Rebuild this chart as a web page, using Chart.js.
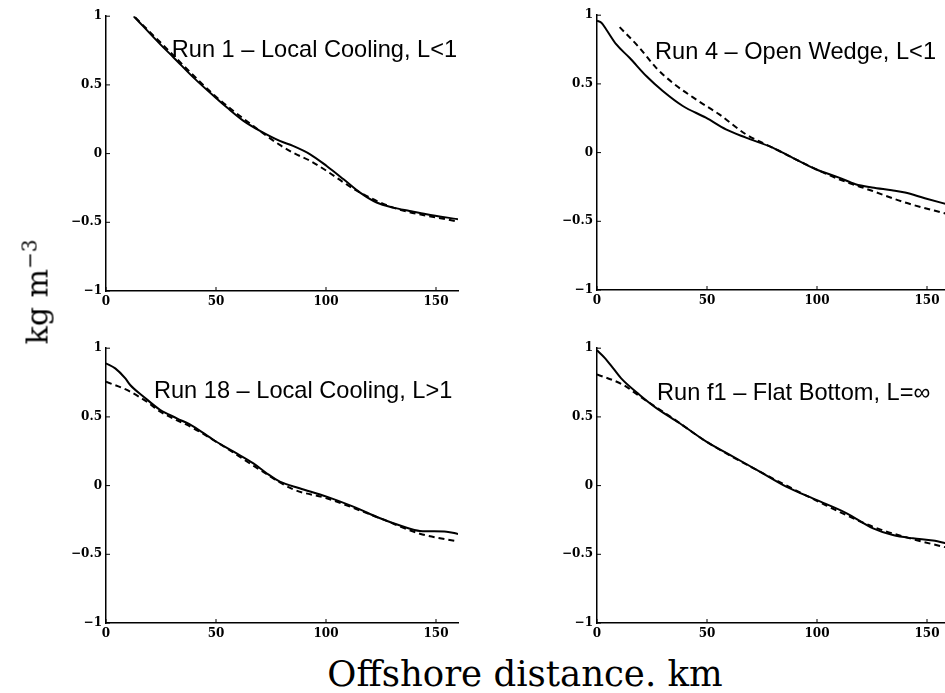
<!DOCTYPE html>
<html>
<head>
<meta charset="utf-8">
<script src="https://cdn.jsdelivr.net/npm/chart.js@4"></script>
<style>
  html, body { margin: 0; padding: 0; background: #fff; overflow: hidden; width: 945px; height: 693px; }
  canvas { position: absolute; }
  #xlabel { position: absolute; left: 0; width: 1050px; top: 653px; text-align: center;
            font: 35.5px "DejaVu Serif", serif; color: #000; white-space: nowrap; }
  #ylabel { position: absolute; left: 36px; top: 292px; transform: translate(-50%, -50%) rotate(-90deg);
            font: 30px "DejaVu Serif", serif; color: #000; white-space: nowrap; }
  #ylabel sup { font-size: 20px; }
</style>
</head>
<body>
<canvas id="p1" width="420" height="310" style="left:50px;top:5px"></canvas>
<canvas id="p2" width="420" height="310" style="left:541px;top:4px"></canvas>
<canvas id="p3" width="420" height="310" style="left:50px;top:337px"></canvas>
<canvas id="p4" width="420" height="310" style="left:541px;top:337px"></canvas>
<div id="ylabel">kg m<sup>&minus;3</sup></div>
<div id="xlabel">Offshore distance. km</div>
<script>
// axis ticks
const xTicks = [0, 50, 100, 150];
const yTicks = [-1, -0.5, 0, 0.5, 1];

// Run 1 - Local Cooling, L<1
const run1Km = [12.6, 24.7, 30.7, 39.8, 49.6, 55, 62.5, 70, 79, 85, 92.8, 100.3, 108, 115.5, 123, 130.6, 138, 145.7, 160];
const run1Obs = [1.0, 0.795, 0.70, 0.553, 0.41, 0.335, 0.238, 0.165, 0.092, 0.056, -0.005, -0.09, -0.187, -0.284, -0.356, -0.393, -0.417, -0.441, -0.478];
const run1ModKm = [13.3, 24.7, 49.6, 67, 79, 85, 92.8, 100.3, 108, 115.5, 130.6, 160];
const run1Mod = [0.99, 0.81, 0.42, 0.20, 0.063, 0.007, -0.053, -0.126, -0.21, -0.284, -0.393, -0.495];

// Run 4 - Open Wedge, L<1
const run4Km = [0, 2, 4.2, 8.8, 14.8, 22.4, 29.9, 39, 49.5, 58.6, 67.7, 79.8, 88.8, 99.4, 110, 117.5, 125, 134, 140, 149, 160];
const run4Obs = [0.96, 0.945, 0.896, 0.787, 0.69, 0.557, 0.448, 0.339, 0.254, 0.169, 0.109, 0.036, -0.036, -0.121, -0.182, -0.23, -0.254, -0.274, -0.29, -0.332, -0.38];
const run4ModKm = [10.3, 19.3, 26.9, 34.4, 45, 55.6, 67.7, 79.8, 94.9, 110, 125, 140, 160];
const run4Mod = [0.913, 0.763, 0.617, 0.508, 0.387, 0.278, 0.133, 0.036, -0.085, -0.194, -0.278, -0.363, -0.45];

// Run 18 - Local Cooling, L>1
const run18Km = [0, 4.2, 8.8, 11, 17.1, 24.7, 32.2, 39.8, 48.9, 58, 67, 73, 79, 88, 100.3, 112.4, 124.6, 135, 142.7, 154.8, 160];
const run18Obs = [0.89, 0.853, 0.78, 0.732, 0.647, 0.55, 0.49, 0.43, 0.332, 0.247, 0.162, 0.09, 0.029, -0.019, -0.08, -0.153, -0.238, -0.298, -0.33, -0.335, -0.352];
const run18ModKm = [0, 9.5, 18.6, 24.7, 39.8, 55, 70, 85, 100.3, 124.6, 142.7, 160];
const run18Mod = [0.756, 0.696, 0.61, 0.538, 0.417, 0.27, 0.114, -0.027, -0.092, -0.238, -0.35, -0.407];

// Run f1 - Flat Bottom, L=inf
const runF1Km = [0, 3.5, 7.3, 11, 19.4, 27, 37.6, 49.7, 61.8, 74, 86, 99.7, 113.3, 125.5, 134.5, 143.6, 152.7, 160];
const runF1Obs = [0.985, 0.93, 0.855, 0.78, 0.66, 0.564, 0.454, 0.32, 0.211, 0.102, -0.007, -0.104, -0.2, -0.311, -0.36, -0.384, -0.4, -0.425];
const runF1ModKm = [0, 11.8, 19.4, 34.5, 49.7, 74, 99.7, 125.5, 143.6, 160];
const runF1Mod = [0.81, 0.734, 0.65, 0.49, 0.32, 0.102, -0.109, -0.3, -0.39, -0.455];

const panels = [
  { id: 'p1', title: 'Run 1 \u2013 Local Cooling, L<1', at: [29.9, 0.70], km: run1Km, obs: run1Obs, modKm: run1ModKm, mod: run1Mod },
  { id: 'p2', title: 'Run 4 \u2013 Open Wedge, L<1', at: [26.4, 0.68], km: run4Km, obs: run4Obs, modKm: run4ModKm, mod: run4Mod },
  { id: 'p3', title: 'Run 18 \u2013 Local Cooling, L>1', at: [21.8, 0.64], km: run18Km, obs: run18Obs, modKm: run18ModKm, mod: run18Mod },
  { id: 'p4', title: 'Run f1 \u2013 Flat Bottom, L=\u221e', at: [27.3, 0.62], km: runF1Km, obs: runF1Obs, modKm: runF1ModKm, mod: runF1Mod }
];

const zip = (xs, ys) => xs.map((x, i) => ({ x, y: ys[i] }));
const fmt = v => (v < 0 ? '\u2212' : '') + Math.abs(v);

// title text + small inward ticks, MATLAB style
const panelDecor = {
  id: 'panelDecor',
  afterDatasetsDraw(chart, args, opts) {
    const { ctx, scales: { x, y } } = chart;
    ctx.save();
    ctx.strokeStyle = '#000';
    ctx.lineWidth = 1;
    ctx.beginPath();
    xTicks.forEach(v => {
      const px = x.getPixelForValue(v);
      ctx.moveTo(px, y.bottom); ctx.lineTo(px, y.bottom - 4);
    });
    yTicks.forEach(v => {
      const py = y.getPixelForValue(v);
      ctx.moveTo(x.left, py); ctx.lineTo(x.left + 4, py);
    });
    ctx.stroke();
    ctx.font = '23.6px "Liberation Sans", Arial, sans-serif';
    ctx.fillStyle = '#000';
    ctx.textAlign = 'left';
    ctx.textBaseline = 'alphabetic';
    ctx.fillText(opts.text, x.getPixelForValue(opts.at[0]), y.getPixelForValue(opts.at[1]));
    ctx.restore();
  }
};

const tickFont = { family: '"DejaVu Serif", serif', size: 12, weight: 'bold' };

panels.forEach(p => {
  new Chart(document.getElementById(p.id), {
    type: 'line',
    data: {
      datasets: [
        { data: zip(p.km, p.obs), borderColor: '#000', borderWidth: 2, pointRadius: 0, cubicInterpolationMode: 'monotone' },
        { data: zip(p.modKm, p.mod), borderColor: '#000', borderWidth: 2, borderDash: [6, 4], pointRadius: 0, cubicInterpolationMode: 'monotone' }
      ]
    },
    options: {
      responsive: false,
      devicePixelRatio: 1,
      animation: false,
      events: [],
      layout: { padding: { top: 11, right: 12, left: 0, bottom: 0 } },
      plugins: {
        legend: { display: false },
        tooltip: { enabled: false },
        panelDecor: { text: p.title, at: p.at }
      },
      scales: {
        x: {
          type: 'linear', min: 0, max: 160,
          afterBuildTicks: s => { s.ticks = xTicks.map(v => ({ value: v })); },
          afterFit: s => { s.height = 24; },
          grid: { display: false, drawTicks: false },
          border: { display: true, color: '#000', width: 1.5 },
          ticks: { color: '#000', font: tickFont, padding: 4, maxRotation: 0 }
        },
        y: {
          type: 'linear', min: -1, max: 1,
          afterBuildTicks: s => { s.ticks = yTicks.map(v => ({ value: v })); },
          afterFit: s => { s.width = 56; },
          grid: { display: false, drawTicks: false },
          border: { display: true, color: '#000', width: 1.5 },
          ticks: { color: '#000', font: tickFont, padding: 4, callback: v => fmt(v) }
        }
      }
    },
    plugins: [panelDecor]
  });
});
</script>
</body>
</html>
